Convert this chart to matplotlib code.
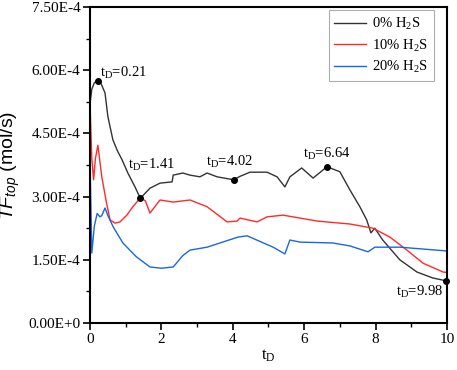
import matplotlib.pyplot as plt
import numpy as np
from matplotlib.ticker import MultipleLocator, FuncFormatter

plt.rcParams['font.family'] = 'Liberation Serif'
plt.rcParams['mathtext.fontset'] = 'custom'
plt.rcParams['mathtext.rm'] = 'Liberation Serif'
plt.rcParams['mathtext.it'] = 'Liberation Sans:italic'
plt.rcParams['axes.unicode_minus'] = False

# Data (values in 1e-4 mol/s)
x_black = [0.0, 0.05, 0.12, 0.21, 0.3, 0.42, 0.5, 0.64, 0.76, 0.9, 1.06, 1.26, 1.41, 1.68, 1.96,
           2.3, 2.33, 2.6, 2.8, 3.08, 3.28, 3.56, 4.02, 4.2, 4.48, 4.96, 5.24, 5.46, 5.6, 5.93,
           6.25, 6.64, 7.0, 7.28, 7.56, 7.75, 7.87, 7.98, 8.2, 8.68, 9.16, 9.6, 9.98]
y_black = [5.2, 5.55, 5.7, 5.75, 5.7, 5.46, 4.9, 4.35, 4.1, 3.87, 3.56, 3.23, 2.96, 3.2, 3.32,
           3.35, 3.51, 3.56, 3.51, 3.47, 3.56, 3.47, 3.40, 3.48, 3.58, 3.58, 3.47, 3.23, 3.47, 3.68,
           3.44, 3.71, 3.59, 3.16, 2.76, 2.45, 2.14, 2.25, 1.97, 1.5, 1.21, 1.07, 1.0]

x_red = [0.0, 0.05, 0.1, 0.15, 0.22, 0.33, 0.45, 0.56, 0.7, 0.84, 1.03, 1.2, 1.41, 1.55, 1.68,
         1.96, 2.33, 2.8, 3.28, 3.84, 4.12, 4.2, 4.68, 4.96, 5.41, 6.36, 7.28, 7.93, 8.4, 8.88,
         9.33, 9.89, 10.0]
y_red = [5.2, 3.9, 3.4, 3.9, 4.22, 3.47, 2.9, 2.45, 2.37, 2.4, 2.56, 2.76, 2.97, 2.9, 2.61,
         2.92, 2.87, 2.92, 2.76, 2.4, 2.42, 2.49, 2.4, 2.52, 2.56, 2.42, 2.35, 2.25, 2.04, 1.73,
         1.42, 1.21, 1.2]

x_blue = [0.0, 0.05, 0.12, 0.2, 0.28, 0.33, 0.42, 0.5, 0.65, 0.92, 1.3, 1.68, 2.0, 2.33, 2.6,
          2.8, 3.28, 3.64, 4.15, 4.4, 5.13, 5.46, 5.6, 5.88, 6.8, 7.28, 7.79, 7.98, 8.68, 10.0]
y_blue = [3.85, 1.66, 2.3, 2.6, 2.52, 2.55, 2.73, 2.55, 2.28, 1.9, 1.57, 1.33, 1.3, 1.33, 1.6,
          1.73, 1.8, 1.9, 2.04, 2.07, 1.8, 1.64, 1.97, 1.92, 1.9, 1.83, 1.69, 1.8, 1.8, 1.71]

marks_x = [0.21, 1.41, 4.02, 6.64, 9.98]
marks_y = [5.75, 2.96, 3.40, 3.71, 1.0]
mark_labels = ['0.21', '1.41', '4.02', '6.64', '9.98']
label_offsets = [(2, 6), (-9, 24), (-20, 13), (-17, 9), (-36, -8)]

fig = plt.figure(figsize=(4.57, 3.7), dpi=100)
ax = fig.add_axes([0.197, 0.127, 0.781, 0.854])

ax.plot(x_black, np.array(y_black) * 1e-4, color='#333333', lw=1.0, label='0% H$_2$S')
ax.plot(x_red, np.array(y_red) * 1e-4, color='#ff2a2a', lw=1.0, label='10% H$_2$S')
ax.plot(x_blue, np.array(y_blue) * 1e-4, color='#1a66e0', lw=1.0, label='20% H$_2$S')

ax.plot(marks_x, np.array(marks_y) * 1e-4, 'o', color='black', ms=4, zorder=5, clip_on=False)
for mx, my, lab, off in zip(marks_x, marks_y, mark_labels, label_offsets):
    ax.annotate('t$_\\mathrm{D}$=' + lab, xy=(mx, my * 1e-4), xytext=off,
                textcoords='offset points', fontsize=10.5, ha='left', va='center')

ax.set_xlim(0, 10)
ax.set_ylim(0, 7.5e-4)
ax.xaxis.set_major_locator(MultipleLocator(2))
ax.xaxis.set_minor_locator(MultipleLocator(1))
ax.yaxis.set_major_locator(MultipleLocator(1.5e-4))
ax.yaxis.set_minor_locator(MultipleLocator(0.75e-4))


def sci(v, pos):
    if v == 0:
        return '0.00E+0'
    e = int(np.floor(np.log10(abs(v))))
    return f'{v / 10**e:.2f}E{e}'


ax.yaxis.set_major_formatter(FuncFormatter(sci))
ax.tick_params(which='both', direction='out', top=False, right=False, labelsize=11)
ax.tick_params(which='major', length=5, width=1.2, pad=2)
ax.tick_params(which='minor', length=3, width=1.0)
for s in ax.spines.values():
    s.set_linewidth(1.5)

ax.set_xlabel('t$_\\mathrm{D}$', fontsize=12, labelpad=1)
ax.set_ylabel('$TF_{top}$ (mol/s)', fontsize=14, family='Liberation Sans', va='center')
ax.yaxis.set_label_coords(-0.222, 0.5)

leg = ax.legend(loc='upper right', bbox_to_anchor=(0.964, 0.99), borderaxespad=0,
                fontsize=10.5, frameon=True, fancybox=False, edgecolor='#999999',
                handlelength=2.2, handletextpad=0.4, borderpad=0.4, labelspacing=0.35)
for t in leg.get_texts():
    t.set_ha('right')
leg.get_frame().set_linewidth(0.8)

fig.savefig('out.png', dpi=100)
